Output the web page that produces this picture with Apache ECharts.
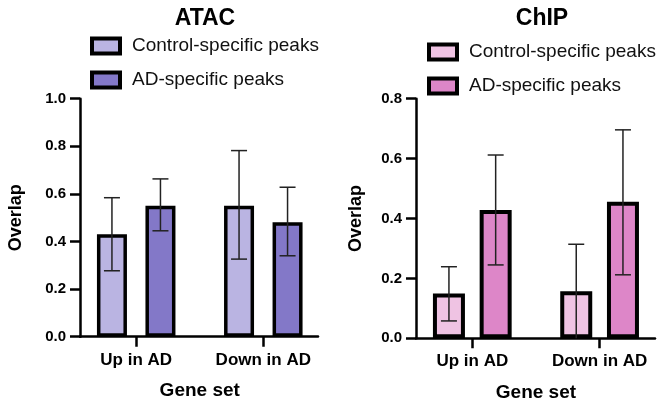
<!DOCTYPE html>
<html><head><meta charset="utf-8">
<script src="https://cdn.jsdelivr.net/npm/echarts@6/dist/echarts.min.js"></script>
<style>html,body{margin:0;padding:0;background:#fff}#c{width:659px;height:401px}</style>
</head><body><div id="c"></div>
<script>
const categories = ['Up in AD', 'Down in AD'];
const legendNames = ['Control-specific peaks', 'AD-specific peaks'];
const atacTicks = [0, 0.2, 0.4, 0.6, 0.8, 1.0];
const chipTicks = [0, 0.2, 0.4, 0.6, 0.8];

const atacControl = [0.43, 0.55];
const atacControlLow = [0.277, 0.326];
const atacControlHigh = [0.584, 0.782];
const atacAD = [0.55, 0.481];
const atacADLow = [0.445, 0.340];
const atacADHigh = [0.663, 0.628];

const chipControl = [0.150, 0.157];
const chipControlLow = [0.058, 0.0];
const chipControlHigh = [0.239, 0.314];
const chipAD = [0.428, 0.456];
const chipADLow = [0.245, 0.212];
const chipADHigh = [0.612, 0.696];

const FONT = 'Liberation Sans, Arial, Helvetica, sans-serif';
const cfg = {
  atac: {barWidth: 30, border: 3.5, gap: 0.617, colors: ['#bab4e2', '#8378c8']},
  chip: {barWidth: 32, border: 4, gap: 0.46, colors: ['#efc3e3', '#dd86c8']}
};

function errSeries(name, gridKey, xi, yi, side, low, high) {
  const c = cfg[gridKey];
  const off = side * c.barWidth * (1 + c.gap) / 2;
  return {
    type: 'custom', name: name, xAxisIndex: xi, yAxisIndex: yi, z: 10, silent: true,
    data: categories.map((_, i) => [i, low[i], high[i]]),
    renderItem: function (params, api) {
      const x = api.coord([api.value(0), 0])[0] + off;
      const yl = api.coord([api.value(0), api.value(1)])[1];
      const yh = api.coord([api.value(0), api.value(2)])[1];
      const st = {stroke: '#222', lineWidth: 1.5};
      const ch = [
        {type: 'line', shape: {x1: x, y1: yl, x2: x, y2: yh}, style: st},
        {type: 'line', shape: {x1: x - 8, y1: yh, x2: x + 8, y2: yh}, style: st}
      ];
      if (api.value(1) > 0) ch.push({type: 'line', shape: {x1: x - 8, y1: yl, x2: x + 8, y2: yl}, style: st});
      return {type: 'group', children: ch};
    }
  };
}
function barSeries(name, gridKey, xi, yi, color, data) {
  const c = cfg[gridKey];
  return {
    type: 'bar', name: name, xAxisIndex: xi, yAxisIndex: yi,
    barWidth: c.barWidth, barGap: (c.gap * 100) + '%',
    itemStyle: {color: color, borderColor: '#000', borderWidth: c.border},
    data: data, z: 2
  };
}

const boldLbl = {fontFamily: FONT, fontWeight: 'bold', color: '#000'};

function axisPair(max, ticks, nameGap) {
  return {
    x: {type: 'value', min: 0, max: 1, axisLine: {show: true, lineStyle: {color: '#000', width: 2.5}},
        axisTick: {show: false}, axisLabel: {show: false}, splitLine: {show: false}},
    y: {type: 'value', min: 0, max: max, interval: 0.2,
        axisLine: {show: true, lineStyle: {color: '#000', width: 2.5}},
        axisTick: {show: true, length: 10, lineStyle: {color: '#000', width: 2.5}},
        axisLabel: Object.assign({fontSize: 15, margin: 14, formatter: v => ticks.includes(+v.toFixed(1)) ? v.toFixed(1) : ''}, boldLbl),
        splitLine: {show: false},
        name: 'Overlap', nameLocation: 'middle', nameGap: nameGap,
        nameTextStyle: Object.assign({fontSize: 18}, boldLbl)}
  };
}
function catPair(gi, max) {
  return {
    x: {type: 'category', gridIndex: gi, data: categories,
        axisLine: {show: false},
        axisTick: {show: true, alignWithLabel: true, length: 10, lineStyle: {color: '#000', width: 2.5}},
        axisLabel: Object.assign({fontSize: 17, margin: 15}, boldLbl),
        name: 'Gene set', nameLocation: 'middle', nameGap: 45,
        nameTextStyle: Object.assign({fontSize: 19}, boldLbl)},
    y: {type: 'value', gridIndex: gi, min: 0, max: max, show: false, splitLine: {show: false}}
  };
}

const a0 = axisPair(1.0, atacTicks, 55), a1 = catPair(1, 1.0);
const c0 = axisPair(0.8, chipTicks, 51), c1 = catPair(3, 0.8);
a0.x.gridIndex = 0; a0.y.gridIndex = 0; c0.x.gridIndex = 2; c0.y.gridIndex = 2;

const legendCommon = {
  orient: 'vertical', icon: 'rect', itemWidth: 28, itemHeight: 15, itemGap: 14, padding: 0,
  itemStyle: {borderColor: '#000', borderWidth: 4},
  textStyle: {fontFamily: FONT, fontSize: 19, color: '#111', lineHeight: 20, padding: [0, 0, 0, 7]},
  formatter: n => n.split('|')[1]
};

const option = {
  animation: false,
  backgroundColor: '#fff',
  title: [
    {text: 'ATAC', left: 200, top: 2, textAlign: 'center', textStyle: Object.assign({fontSize: 23}, boldLbl)},
    {text: 'ChIP', left: 537, top: 2, textAlign: 'center', textStyle: Object.assign({fontSize: 23}, boldLbl)}
  ],
  legend: [
    Object.assign({left: 90, top: 36, data: legendNames.map(n => 'ATAC|' + n)}, legendCommon),
    Object.assign({left: 427, top: 42, data: legendNames.map(n => 'ChIP|' + n)}, legendCommon)
  ],
  grid: [
    {left: 80, top: 98.7, width: 238, height: 238, outerBoundsMode: 'none'},
    {left: 72.65, top: 98.7, width: 254.2, height: 238, outerBoundsMode: 'none'},
    {left: 416, top: 98.7, width: 239, height: 239.6, outerBoundsMode: 'none'},
    {left: 408.65, top: 98.7, width: 254.6, height: 239.6, outerBoundsMode: 'none'}
  ],
  xAxis: [a0.x, a1.x, c0.x, c1.x],
  yAxis: [a0.y, a1.y, c0.y, c1.y],
  series: [
    barSeries('ATAC|' + legendNames[0], 'atac', 1, 1, cfg.atac.colors[0], atacControl),
    barSeries('ATAC|' + legendNames[1], 'atac', 1, 1, cfg.atac.colors[1], atacAD),
    errSeries('errA0', 'atac', 1, 1, -1, atacControlLow, atacControlHigh),
    errSeries('errA1', 'atac', 1, 1, 1, atacADLow, atacADHigh),
    barSeries('ChIP|' + legendNames[0], 'chip', 3, 3, cfg.chip.colors[0], chipControl),
    barSeries('ChIP|' + legendNames[1], 'chip', 3, 3, cfg.chip.colors[1], chipAD),
    errSeries('errC0', 'chip', 3, 3, -1, chipControlLow, chipControlHigh),
    errSeries('errC1', 'chip', 3, 3, 1, chipADLow, chipADHigh)
  ]
};
const chart = echarts.init(document.getElementById('c'), null, {renderer: 'canvas'});
chart.setOption(option);
</script></body></html>
